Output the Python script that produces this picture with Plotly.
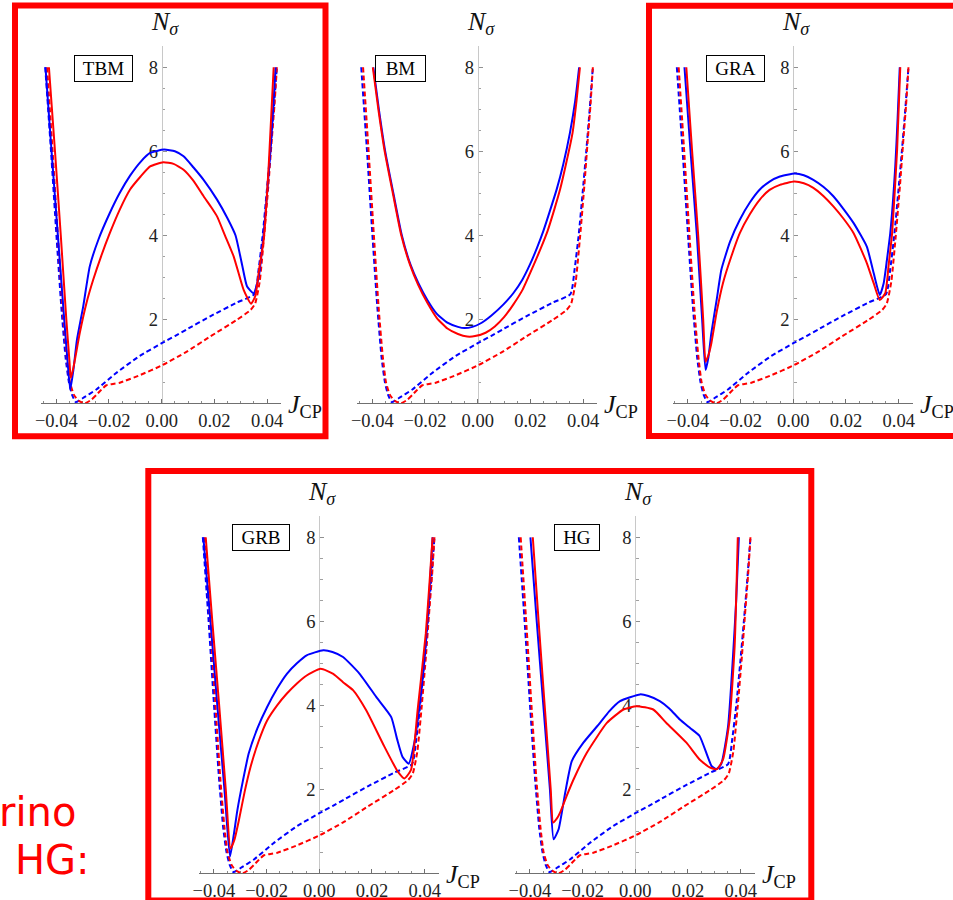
import plotly.graph_objects as go

# ---------------------------------------------------------------------------
# N_sigma versus J_CP for five mixing schemes
# ---------------------------------------------------------------------------
MODELS = ["TBM", "BM", "GRA", "GRB", "HG"]

# dashed reference curves (identical in every panel)
DASH_BLUE_J = [-0.0442, -0.0420, -0.0400, -0.0381, -0.0365, -0.0352, -0.0340, -0.0326,
               -0.0300, -0.0248, -0.0171, -0.0083, 0.0000, 0.0050, 0.0095, 0.0184,
               0.0286, 0.0352, 0.0368, 0.0384, 0.0398, 0.0412, 0.0425, 0.0437]
DASH_BLUE_N = [8.0, 6.0, 4.05, 2.3, 1.1, 0.5, 0.2, 0.03,
               0.12, 0.33, 0.73, 1.13, 1.43, 1.6, 1.76, 2.07,
               2.4, 2.6, 3.2, 4.05, 5.0, 6.0, 7.0, 8.0]
DASH_RED_J = [-0.0435, -0.0414, -0.0394, -0.0375, -0.0360, -0.0348, -0.0333, -0.0315,
              -0.0292, -0.0268, -0.0248, -0.0225, -0.0210, -0.0185, -0.0159, -0.0083,
              0.0000, 0.0095, 0.0184, 0.0286, 0.0337, 0.0355, 0.0372, 0.0389,
              0.0405, 0.0418, 0.0428, 0.0437]
DASH_RED_N = [8.0, 6.0, 4.0, 2.2, 1.1, 0.5, 0.2, 0.06,
              0.0, 0.08, 0.2, 0.35, 0.43, 0.46, 0.49, 0.67,
              0.9, 1.23, 1.59, 1.99, 2.22, 2.38, 2.9, 4.0,
              5.2, 6.3, 7.1, 8.0]

# solid curves, per model
TBM_BLUE_J = [-0.0441, -0.0418, -0.0394, -0.0370, -0.0356, -0.0347, -0.0335, -0.0322, -0.0298,
              -0.0273, -0.0240, -0.0197, -0.0160, -0.0120, -0.0080, -0.0044, 0.0009, 0.0050,
              0.0083, 0.0120, 0.0159, 0.0210, 0.0250, 0.0280, 0.0305, 0.0324, 0.0349, 0.0368,
              0.0387, 0.0400, 0.0413, 0.0423, 0.0432]
TBM_BLUE_N = [8.0, 6.0, 4.0, 2.0, 0.9, 0.33, 0.8, 1.5, 2.3,
              3.26, 3.9, 4.53, 5.0, 5.42, 5.75, 5.96, 6.04, 6.0,
              5.88, 5.62, 5.32, 4.85, 4.4, 4.0, 3.3, 2.78, 2.62, 3.0,
              4.05, 5.0, 6.04, 7.0, 8.0]
TBM_RED_J = [-0.0428, -0.0405, -0.0383, -0.0362, -0.0350, -0.0345, -0.0335, -0.0311, -0.0285,
             -0.0260, -0.0230, -0.0197, -0.0160, -0.0120, -0.0080, -0.0044, 0.0006, 0.0045,
             0.0083, 0.0120, 0.0159, 0.0190, 0.0210, 0.0240, 0.0273, 0.0311, 0.0339, 0.0355,
             0.0370, 0.0387, 0.0406, 0.0425]
TBM_RED_N = [8.0, 6.0, 4.0, 2.0, 1.0, 0.6, 0.85, 1.67, 2.4,
             2.94, 3.5, 4.05, 4.6, 5.09, 5.4, 5.64, 5.74, 5.7,
             5.56, 5.3, 4.93, 4.65, 4.45, 4.0, 3.5, 2.7, 2.37, 2.55,
             3.2, 3.89, 5.64, 8.0]

BM_BLUE_J = [-0.0396, -0.0375, -0.0351, -0.0320, -0.0288, -0.0255, -0.0225, -0.0190, -0.0155,
             -0.0115, -0.0075, -0.0050, -0.0020, 0.0010, 0.0050, 0.0097, 0.0135, 0.0170,
             0.0198, 0.0225, 0.0249, 0.0275, 0.0300, 0.0325, 0.0350, 0.0370, 0.0385]
BM_BLUE_N = [8.0, 7.0, 6.0, 5.0, 4.0, 3.3, 2.86, 2.45, 2.13,
             1.92, 1.82, 1.79, 1.82, 1.9, 2.08, 2.35, 2.62, 2.95,
             3.3, 3.7, 4.1, 4.6, 5.1, 5.7, 6.44, 7.2, 8.0]
BM_RED_J = [-0.0398, -0.0377, -0.0353, -0.0322, -0.0290, -0.0257, -0.0226, -0.0190, -0.0155,
            -0.0115, -0.0075, -0.0040, -0.0010, 0.0030, 0.0065, 0.0100, 0.0135, 0.0170,
            0.0213, 0.0240, 0.0265, 0.0290, 0.0313, 0.0337, 0.0360, 0.0375, 0.0388]
BM_RED_N = [8.0, 7.0, 6.0, 5.0, 4.0, 3.3, 2.82, 2.38, 2.03,
            1.78, 1.65, 1.59, 1.6, 1.68, 1.83, 2.05, 2.35, 2.7,
            3.3, 3.7, 4.1, 4.6, 5.1, 5.75, 6.44, 7.2, 8.0]

GRA_BLUE_J = [-0.0413, -0.0390, -0.0366, -0.0346, -0.0333, -0.0322, -0.0311, -0.0290, -0.0273,
              -0.0240, -0.0203, -0.0165, -0.0127, -0.0090, -0.0051, 0.0006, 0.0040, 0.0076,
              0.0115, 0.0152, 0.0190, 0.0229, 0.0279, 0.0305, 0.0328, 0.0343, 0.0355, 0.0368,
              0.0387, 0.0396, 0.0404]
GRA_BLUE_N = [8.0, 6.0, 4.0, 2.0, 0.79, 1.1, 1.67, 2.5, 3.18,
              3.85, 4.37, 4.78, 5.09, 5.28, 5.4, 5.47, 5.43, 5.32,
              5.15, 4.93, 4.63, 4.29, 3.73, 3.1, 2.58, 2.86, 3.4, 4.05,
              5.64, 6.8, 8.0]
GRA_RED_J = [-0.0406, -0.0384, -0.0361, -0.0342, -0.0333, -0.0322, -0.0311, -0.0290, -0.0267,
             -0.0235, -0.0203, -0.0165, -0.0127, -0.0090, -0.0051, 0.0003, 0.0040, 0.0076,
             0.0115, 0.0152, 0.0190, 0.0229, 0.0279, 0.0305, 0.0328, 0.0349, 0.0362, 0.0375,
             0.0394, 0.0406]
GRA_RED_N = [8.0, 6.0, 4.0, 2.0, 0.99, 1.15, 1.43, 2.2, 2.86,
             3.5, 4.05, 4.5, 4.85, 5.08, 5.2, 5.28, 5.24, 5.13,
             4.93, 4.69, 4.4, 4.05, 3.34, 2.86, 2.46, 2.62, 3.3, 4.05,
             6.04, 8.0]

GRB_BLUE_J = [-0.0440, -0.0413, -0.0387, -0.0360, -0.0339, -0.0325, -0.0311, -0.0290, -0.0268,
              -0.0235, -0.0198, -0.0160, -0.0123, -0.0085, -0.0048, 0.0015, 0.0050, 0.0090,
              0.0153, 0.0216, 0.0273, 0.0295, 0.0316, 0.0339, 0.0360, 0.0386, 0.0404, 0.0418,
              0.0430]
GRB_BLUE_N = [8.0, 6.0, 4.0, 2.0, 0.4, 0.9, 1.5, 2.2, 2.85,
              3.45, 3.96, 4.4, 4.75, 5.0, 5.19, 5.31, 5.27, 5.15,
              4.75, 4.2, 3.72, 3.2, 2.77, 2.61, 3.09, 4.28, 5.47, 6.7,
              8.0]
GRB_RED_J = [-0.0431, -0.0406, -0.0380, -0.0355, -0.0337, -0.0322, -0.0305, -0.0283, -0.0261,
             -0.0230, -0.0198, -0.0160, -0.0123, -0.0085, -0.0048, 0.0005, 0.0053, 0.0090,
             0.0128, 0.0178, 0.0241, 0.0298, 0.0323, 0.0348, 0.0373, 0.0404, 0.0418, 0.0430]
GRB_RED_N = [8.0, 6.0, 4.0, 2.0, 0.59, 0.8, 1.27, 1.95, 2.53,
             3.15, 3.64, 4.0, 4.28, 4.52, 4.71, 4.87, 4.75, 4.55,
             4.36, 3.88, 3.09, 2.42, 2.26, 2.46, 3.88, 5.7, 6.9, 8.0]

HG_BLUE_J = [-0.0398, -0.0374, -0.0349, -0.0324, -0.0310, -0.0291, -0.0266, -0.0241, -0.0197,
             -0.0134, -0.0100, -0.0058, 0.0018, 0.0050, 0.0093, 0.0130, 0.0169, 0.0210,
             0.0244, 0.0289, 0.0307, 0.0326, 0.0352, 0.0370, 0.0383, 0.0393]
HG_BLUE_N = [8.0, 6.0, 4.0, 2.0, 0.81, 1.05, 1.92, 2.67, 3.11,
             3.58, 3.85, 4.1, 4.26, 4.22, 4.1, 3.92, 3.66, 3.45,
             3.27, 2.56, 2.48, 2.6, 3.5, 5.09, 6.51, 8.0]
HG_RED_J = [-0.0389, -0.0367, -0.0344, -0.0321, -0.0312, -0.0298, -0.0285, -0.0260, -0.0234,
            -0.0184, -0.0108, -0.0045, 0.0005, 0.0068, 0.0118, 0.0194, 0.0244, 0.0282,
            0.0310, 0.0333, 0.0358, 0.0377, 0.0389]
HG_RED_N = [8.0, 6.0, 4.0, 2.0, 1.21, 1.3, 1.45, 1.85, 2.24,
            2.87, 3.58, 3.9, 3.98, 3.9, 3.58, 3.11, 2.71, 2.52,
            2.48, 2.71, 3.66, 5.4, 8.0]

SOLID = {
    "TBM": (TBM_BLUE_J, TBM_BLUE_N, TBM_RED_J, TBM_RED_N),
    "BM": (BM_BLUE_J, BM_BLUE_N, BM_RED_J, BM_RED_N),
    "GRA": (GRA_BLUE_J, GRA_BLUE_N, GRA_RED_J, GRA_RED_N),
    "GRB": (GRB_BLUE_J, GRB_BLUE_N, GRB_RED_J, GRB_RED_N),
    "HG": (HG_BLUE_J, HG_BLUE_N, HG_RED_J, HG_RED_N),
}

X_TICKS = [-0.04, -0.02, 0.0, 0.02, 0.04]
X_TICK_TEXT = ["\u22120.04", "\u22120.02", "0.00", "0.02", "0.04"]
Y_TICKS = [2, 4, 6, 8]
Y_TICK_TEXT = ["2", "4", "6", "8"]

# ---------------------------------------------------------------------------
# page geometry (pixels)
# ---------------------------------------------------------------------------
W, H = 953, 900
J_MIN, J_MAX = -0.0458, 0.0453
N_MIN, N_MAX = 0.0, 8.5
SX = 2635.0   # px per unit of J
SY = 42.0     # px per unit of N
# pixel position of the origin (J=0, N=0) of each panel
ORIGINS = [(161.7, 403.3), (477.7, 403.3), (793.3, 403.3), (319.3, 873.3), (635.3, 873.3)]
# centre of each model tag
TAG_POS = [(103.5, 68.5), (400.5, 68.0), (735.5, 68.5), (261.0, 537.0), (577.0, 537.5)]
TAG_SIZE = [(57, 25), (49, 25), (57, 25), (56, 25), (44, 25)]

BLUE = "#0000ff"
RED = "#ff0000"
SERIF = "Liberation Serif, Times New Roman, serif"
LINE_SHAPE = dict(shape="spline", smoothing=0.5)


def px(x):
    return x / W


def py(y):
    return 1 - y / H


fig = go.Figure()
layout = {}
annotations = []

minor_x = [round(-0.045 + 0.005 * k, 4) for k in range(19)]
minor_y = [0.5 * k for k in range(1, 18)]

for i, model in enumerate(MODELS):
    n = i + 1
    xa = "x" if n == 1 else f"x{n}"
    ya = "y" if n == 1 else f"y{n}"
    x0, y0 = ORIGINS[i]
    dom_x = [px(x0 + J_MIN * SX), px(x0 + J_MAX * SX)]
    dom_y = [py(y0 - N_MIN * SY), py(y0 - N_MAX * SY)]

    layout["xaxis" if n == 1 else f"xaxis{n}"] = dict(
        domain=dom_x, range=[J_MIN, J_MAX], anchor=ya,
        showgrid=False, zeroline=False, showline=True,
        linecolor="#707070", linewidth=1,
        ticks="inside", ticklen=4, tickwidth=1, tickcolor="#707070",
        tickmode="array", tickvals=X_TICKS, ticktext=X_TICK_TEXT,
        tickfont=dict(family=SERIF, size=18.5, color="#222222"),
        minor=dict(tickmode="array", tickvals=minor_x, ticks="inside",
                   ticklen=2.5, tickwidth=1, tickcolor="#8a8a8a"),
        layer="below traces", fixedrange=True,
    )
    layout["yaxis" if n == 1 else f"yaxis{n}"] = dict(
        domain=dom_y, range=[N_MIN, N_MAX], anchor="free", position=px(x0),
        showgrid=False, zeroline=False, showline=True,
        linecolor="#c8c8c8", linewidth=1,
        ticks="inside", ticklen=4, tickwidth=1, tickcolor="#909090",
        tickmode="array", tickvals=Y_TICKS, ticktext=Y_TICK_TEXT,
        tickfont=dict(family=SERIF, size=18.5, color="#222222"),
        minor=dict(tickmode="array", tickvals=minor_y, ticks="inside",
                   ticklen=2.5, tickwidth=1, tickcolor="#a0a0a0"),
        layer="below traces", fixedrange=True,
    )

    bj, bn, rj, rn = SOLID[model]
    dash_style = "5px,3px"
    fig.add_trace(go.Scatter(x=DASH_BLUE_J, y=DASH_BLUE_N, xaxis=xa, yaxis=ya, mode="lines",
                             line=dict(color=BLUE, width=2, dash=dash_style, **LINE_SHAPE)))
    fig.add_trace(go.Scatter(x=DASH_RED_J, y=DASH_RED_N, xaxis=xa, yaxis=ya, mode="lines",
                             line=dict(color=RED, width=2, dash=dash_style, **LINE_SHAPE)))
    fig.add_trace(go.Scatter(x=bj, y=bn, xaxis=xa, yaxis=ya, mode="lines",
                             line=dict(color=BLUE, width=2, **LINE_SHAPE)))
    fig.add_trace(go.Scatter(x=rj, y=rn, xaxis=xa, yaxis=ya, mode="lines",
                             line=dict(color=RED, width=2, **LINE_SHAPE)))

    # axis titles
    annotations.append(dict(
        xref="paper", yref="paper", x=px(x0 + 3), y=py(y0 - 380), xanchor="center",
        yanchor="middle", text="<i>N</i><sub><i>\u03c3</i></sub>", showarrow=False,
        font=dict(family=SERIF, size=26, color="#111111"),
    ))
    annotations.append(dict(
        xref="paper", yref="paper", x=px(x0 + J_MAX * SX + 5), y=py(y0 + 3),
        xanchor="left", yanchor="middle",
        text="<i>J</i><sub>CP</sub>", showarrow=False,
        font=dict(family=SERIF, size=26, color="#111111"),
    ))
    # model tag
    tx, ty = TAG_POS[i]
    tw, th = TAG_SIZE[i]
    annotations.append(dict(
        xref="paper", yref="paper", x=px(tx), y=py(ty), xanchor="center", yanchor="middle",
        text=model, showarrow=False, width=tw, height=th, borderpad=0,
        bordercolor="#000000", borderwidth=1, bgcolor="white",
        font=dict(family=SERIF, size=19, color="#000000"),
    ))

# side caption in red
annotations.append(dict(xref="paper", yref="paper", x=px(78), y=py(812), xanchor="right",
                        yanchor="middle", text="rino", showarrow=False,
                        font=dict(family="DejaVu Sans", size=40, color=RED)))
annotations.append(dict(xref="paper", yref="paper", x=px(13), y=py(860), xanchor="left",
                        yanchor="middle", text="HG:", showarrow=False,
                        font=dict(family="DejaVu Sans", size=40, color=RED)))

# red frames around selected panels
frames = [(15, 5.5, 325.5, 436.3), (649, 5.8, 965, 436.0), (148.3, 471, 811.3, 900.5)]
shapes = [dict(type="rect", xref="paper", yref="paper",
               x0=px(a), x1=px(c), y0=py(b), y1=py(d),
               line=dict(color=RED, width=6), fillcolor="rgba(0,0,0,0)")
          for a, b, c, d in frames]

fig.update_layout(
    **layout,
    width=W, height=H,
    margin=dict(l=0, r=0, t=0, b=0, autoexpand=False),
    paper_bgcolor="white", plot_bgcolor="rgba(0,0,0,0)",
    showlegend=False, hovermode=False,
    annotations=annotations, shapes=shapes,
)

fig.write_html("out.html", config={"displayModeBar": False})
